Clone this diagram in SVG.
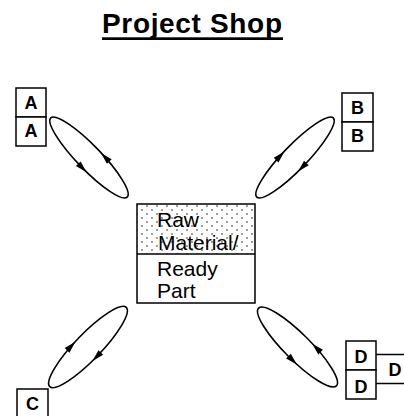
<svg xmlns="http://www.w3.org/2000/svg" width="404" height="416" viewBox="0 0 404 416">
<defs>
<pattern id="dots" width="10" height="8" patternUnits="userSpaceOnUse">
<circle cx="2" cy="2" r="0.8" fill="#222"/>
<circle cx="7" cy="6" r="0.8" fill="#222"/>
</pattern>
<polygon id="ah" points="6,0 -6,-3.3 -6,3.3" fill="#000"/>
</defs>
<style>
.box{fill:#fff;stroke:#000;stroke-width:1.5}
.lbl{font-family:"Liberation Sans",Arial,sans-serif;font-weight:bold;font-size:18px;text-anchor:middle;fill:#000}
.txt{font-family:"Liberation Sans",Arial,sans-serif;font-size:21px;fill:#000}
.loop{fill:none;stroke:#000;stroke-width:1.6}
.ln{stroke:#000;stroke-width:1.5;fill:none}
</style>
<rect width="404" height="416" fill="#fff"/>
<g id="title">
<text x="192" y="33" font-family="'Liberation Sans',Arial,sans-serif" font-weight="bold" font-size="28" text-anchor="middle" textLength="180" fill="#000">Project Shop</text>
<rect x="102" y="37.3" width="181" height="2.7" fill="#000"/>
</g>
<g id="center">
<rect x="137" y="204" width="118" height="50" fill="url(#dots)" stroke="none"/>
<rect x="137" y="204" width="118" height="99" fill="none" stroke="#000" stroke-width="1.5"/>
<line class="ln" x1="137" y1="254" x2="255" y2="254"/>
<text class="txt" x="157" y="227">Raw</text>
<text class="txt" x="158" y="250">Material/</text>
<text class="txt" x="157" y="276">Ready</text>
<text class="txt" x="157" y="298">Part</text>
</g>
<g id="nodeA">
<rect class="box" x="16" y="88" width="30" height="29"/>
<rect class="box" x="16" y="117" width="30" height="29"/>
<text class="lbl" x="31" y="109">A</text>
<text class="lbl" x="31" y="137">A</text>
</g>
<g id="nodeB">
<rect class="box" x="342" y="93" width="31" height="29"/>
<rect class="box" x="342" y="122" width="31" height="29"/>
<text class="lbl" x="357.5" y="114">B</text>
<text class="lbl" x="357.5" y="142">B</text>
</g>
<g id="nodeC">
<rect class="box" x="17" y="389" width="31" height="30"/>
<text class="lbl" x="32.5" y="410">C</text>
</g>
<g id="nodeD">
<rect class="box" x="346" y="341" width="30" height="29"/>
<rect class="box" x="346" y="370" width="30" height="29"/>
<line class="ln" x1="376" y1="354.5" x2="404" y2="354.5"/>
<line class="ln" x1="376" y1="383.5" x2="404" y2="383.5"/>
<text class="lbl" x="361" y="363">D</text>
<text class="lbl" x="361" y="393">D</text>
<text class="lbl" x="395" y="376">D</text>
</g>
<g id="connectors">
<g transform="translate(89,157.5) rotate(46)">
<ellipse class="loop" cx="0" cy="0" rx="55" ry="12"/>
<use href="#ah" transform="translate(11,-11.8) rotate(180)"/>
<use href="#ah" transform="translate(3,12)"/>
</g>
<g transform="translate(295,157.5) rotate(-46)">
<ellipse class="loop" cx="0" cy="0" rx="55" ry="12"/>
<use href="#ah" transform="translate(-9,-11.8)"/>
<use href="#ah" transform="translate(-2,12) rotate(180)"/>
</g>
<g transform="translate(88,347) rotate(-46)">
<ellipse class="loop" cx="0" cy="0" rx="55" ry="13"/>
<use href="#ah" transform="translate(-11,-12.7)"/>
<use href="#ah" transform="translate(-1,13) rotate(180)"/>
</g>
<g transform="translate(297.5,347) rotate(45)">
<ellipse class="loop" cx="0" cy="0" rx="55" ry="13"/>
<use href="#ah" transform="translate(14,-12.7) rotate(180)"/>
<use href="#ah" transform="translate(6,12.8)"/>
</g>
</g>
</svg>
